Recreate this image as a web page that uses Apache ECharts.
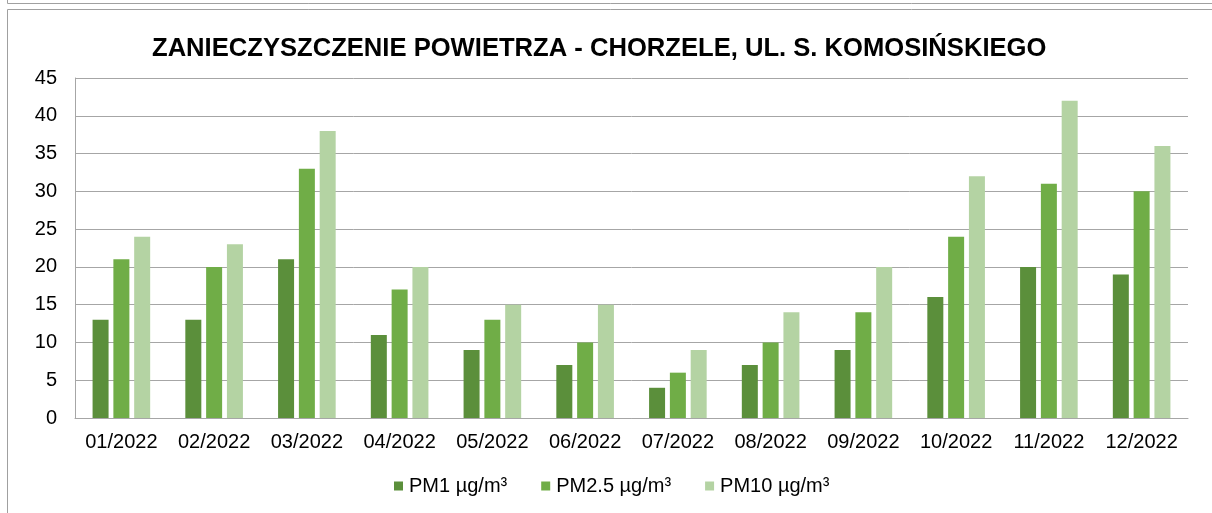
<!DOCTYPE html>
<html>
<head>
<meta charset="utf-8">
<script src="https://cdn.jsdelivr.net/npm/echarts@6/dist/echarts.min.js"></script>
<style>
	html, body { margin: 0; padding: 0; background: #fff; }
	#main { width: 1212px; height: 513px; }
</style>
</head>
<body>
<div id="main"></div>
<script>
var months = ['01/2022', '02/2022', '03/2022', '04/2022', '05/2022', '06/2022',
	'07/2022', '08/2022', '09/2022', '10/2022', '11/2022', '12/2022'];
var pm1 = [13, 13, 21, 11, 9, 7, 4, 7, 9, 16, 20, 19];
var pm25 = [21, 20, 33, 17, 13, 10, 6, 10, 14, 24, 31, 30];
var pm10 = [24, 23, 38, 20, 15, 15, 9, 14, 20, 32, 42, 36];
var seriesNames = ['PM1 µg/m³', 'PM2.5 µg/m³', 'PM10 µg/m³'];

var dom = document.getElementById('main');
var myChart = echarts.init(dom, null, { renderer: 'canvas' });
var font = '"Liberation Sans", Arial, sans-serif';

var option = {
	animation: false,
	color: ['#5b8f3b', '#70ad47', '#b4d3a3'],
	title: {
		text: 'ZANIECZYSZCZENIE POWIETRZA - CHORZELE, UL. S. KOMOSIŃSKIEGO',
		left: 147,
		top: 31,
		textStyle: {
			fontFamily: font,
			fontSize: 25.6,
			fontWeight: 'bold',
			color: '#000'
		}
	},
	graphic: [
		{ type: 'rect', shape: { x: 7.5, y: -20, width: 1230, height: 23.5 },
			style: { fill: 'none', stroke: '#a0a0a0', lineWidth: 1 } },
		{ type: 'rect', shape: { x: 7.5, y: 9.5, width: 1230, height: 530 },
			style: { fill: 'none', stroke: '#a0a0a0', lineWidth: 1 } }
	],
	legend: {
		bottom: 12,
		left: 389,
		itemWidth: 9,
		itemHeight: 9,
		itemGap: 34,
		icon: 'rect',
		textStyle: { fontFamily: font, fontSize: 20, color: '#000', padding: [0, 0, 0, 1] },
		data: seriesNames
	},
	grid: {
		left: 75,
		right: 24,
		top: 78,
		bottom: 95
	},
	xAxis: {
		type: 'category',
		data: months,
		axisTick: { show: false },
		axisLine: { lineStyle: { color: '#a6a6a6', width: 1 } },
		axisLabel: { fontFamily: font, fontSize: 20, color: '#000', margin: 14, interval: 0 }
	},
	yAxis: {
		type: 'value',
		min: 0,
		max: 45,
		interval: 5,
		axisLine: { show: true, lineStyle: { color: '#a6a6a6', width: 1 } },
		axisTick: { show: false },
		axisLabel: { fontFamily: font, fontSize: 20, color: '#000', margin: 18 },
		splitLine: { lineStyle: { color: '#a6a6a6', width: 1 } }
	},
	series: [
		{ name: seriesNames[0], type: 'bar', data: pm1, barWidth: 16, barGap: '30%' },
		{ name: seriesNames[1], type: 'bar', data: pm25, barWidth: 16, barGap: '30%' },
		{ name: seriesNames[2], type: 'bar', data: pm10, barWidth: 16, barGap: '30%' }
	]
};

myChart.setOption(option);
window.addEventListener('resize', myChart.resize);
</script>
</body>
</html>
